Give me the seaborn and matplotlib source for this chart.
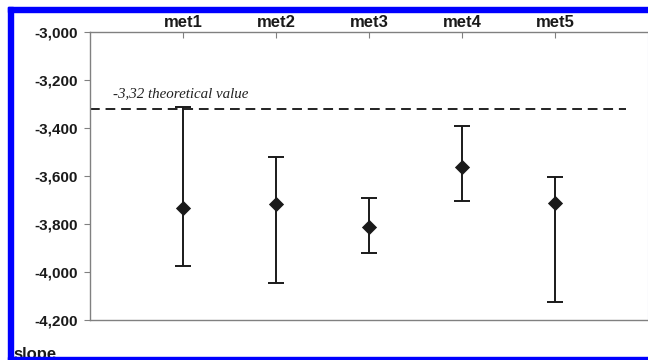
import matplotlib
matplotlib.use('Agg')
import matplotlib.pyplot as plt
import seaborn as sns
import pandas as pd
from matplotlib.patches import Rectangle
from matplotlib.ticker import FuncFormatter

# Dados
metodos = ['met1', 'met2', 'met3', 'met4', 'met5']
slope = [-3735, -3718, -3814, -3562, -3711]
slope_max = [-3314, -3520, -3690, -3392, -3604]
slope_min = [-3975, -4046, -3921, -3703, -4125]
valor_teorico = -3320

sns.set_style('white')
plt.rcParams['font.family'] = ['Liberation Sans', 'DejaVu Sans']

df = pd.DataFrame({'pos': range(1, len(metodos) + 1), 'metodo': metodos, 'slope': slope})
err_low = [s - lo for s, lo in zip(slope, slope_min)]
err_high = [hi - s for s, hi in zip(slope, slope_max)]

fig = plt.figure(figsize=(6.48, 3.6), dpi=100)
ax = fig.add_axes([90 / 648, 40 / 360, 558 / 648, 288 / 360])

ax.errorbar(df['pos'], df['slope'], yerr=[err_low, err_high], fmt='none',
            ecolor='#1a1a1a', elinewidth=1.4, capsize=5.5, capthick=1.4, zorder=2)
sns.scatterplot(data=df, x='pos', y='slope', marker='D', s=60, color='#1a1a1a',
                edgecolor='#1a1a1a', linewidth=0, ax=ax, zorder=3)

# Linha do valor teórico
ax.axhline(valor_teorico, xmin=0, xmax=0.96, color='#222222', lw=1.4, ls=(0, (5, 3)))
ax.text(0.25, -3272, '-3,32 theoretical value', family=['Liberation Serif'],
        style='italic', fontsize=10.8, color='#222222', va='baseline')

ax.set_xlim(0, 6)
ax.set_ylim(-4200, -3000)
ax.set_yticks(range(-4200, -2999, 200))
ax.yaxis.set_major_formatter(FuncFormatter(lambda v, p: f'{v:,.0f}'))
ax.set_xticks(df['pos'])
ax.set_xticklabels(metodos)
ax.xaxis.tick_top()
ax.set_xlabel('')
ax.set_ylabel('')

ax.tick_params(axis='x', direction='in', length=4, width=0.8, color='#808080',
               pad=1.5, labelsize=12)
ax.tick_params(axis='y', direction='out', length=4, width=0.8, color='#808080',
               pad=5, labelsize=11, left=True)
for lbl in ax.get_xticklabels() + ax.get_yticklabels():
    lbl.set_fontweight('bold')
    lbl.set_color('#1a1a1a')

for lado in ['left', 'top', 'bottom']:
    ax.spines[lado].set_color('#808080')
    ax.spines[lado].set_linewidth(1)
ax.spines['right'].set_color('#c8c8e8')
ax.spines['right'].set_linewidth(0.8)

fig.text(13 / 648, 1.5 / 360, 'slope', fontsize=12, fontweight='bold',
         color='#1a1a1a', va='baseline', ha='left')

# Moldura azul
azul = '#0000ff'
fig.add_artist(Rectangle((8 / 648, 0), 5 / 648, 353 / 360, transform=fig.transFigure,
                         color=azul, zorder=10))
fig.add_artist(Rectangle((8 / 648, 348 / 360), 640 / 648, 5 / 360, transform=fig.transFigure,
                         color=azul, zorder=10))
fig.add_artist(Rectangle((8 / 648, 0), 640 / 648, 3 / 360, transform=fig.transFigure,
                         color=azul, zorder=10))

fig.savefig('out.png', dpi=100)
